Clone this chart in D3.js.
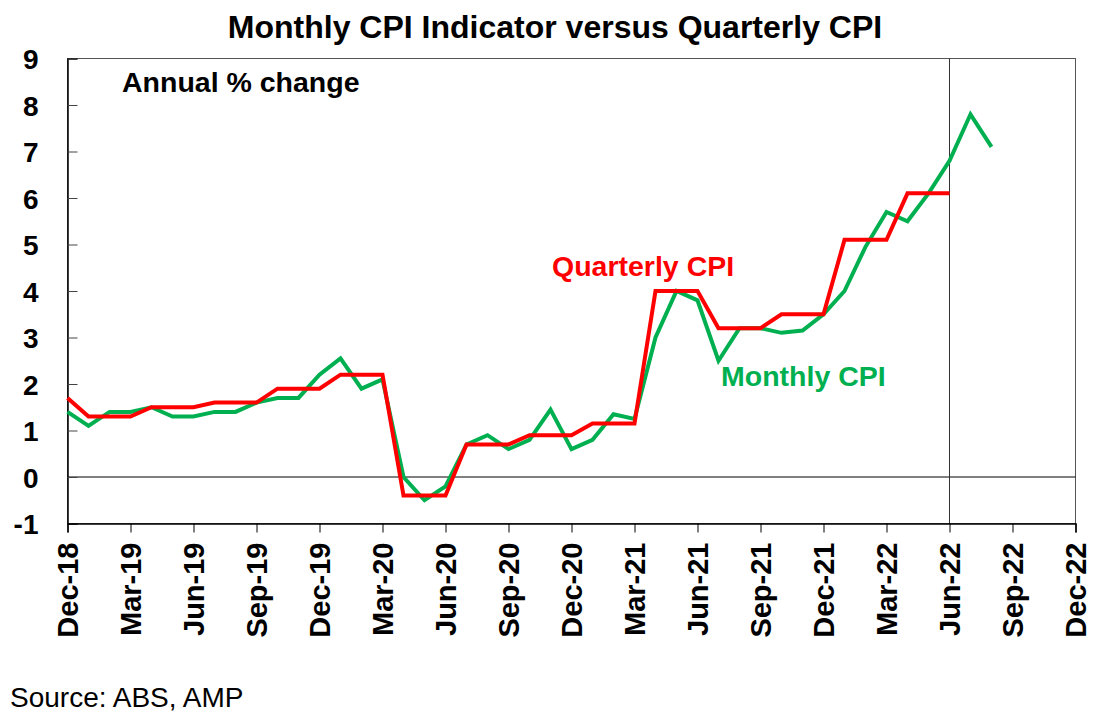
<!DOCTYPE html>
<html>
<head>
<meta charset="utf-8">
<script src="https://cdn.jsdelivr.net/npm/d3@7"></script>
<style>
  body { margin: 0; background: #fff; }
  text { font-family: "Liberation Sans", Arial, sans-serif; }
</style>
</head>
<body>
<div id="chart"></div>
<script>
// monthly CPI indicator, annual % change, Dec-18 .. Aug-22
let monthly_start = new Date(2018, 11, 1);
let monthly_values = [
  1.4, 1.1, 1.4, 1.4, 1.5, 1.3, 1.3, 1.4, 1.4, 1.6, 1.7, 1.7,
  2.2, 2.55, 1.9, 2.1, 0.0, -0.5, -0.2, 0.7, 0.9, 0.6, 0.8, 1.45,
  0.6, 0.8, 1.35, 1.25, 3.0, 4.0, 3.8, 2.5, 3.2, 3.2, 3.1, 3.15,
  3.5, 4.0, 4.95, 5.7, 5.5, 6.1, 6.8, 7.8, 7.1
];

// quarterly CPI, annual % change, Dec-18 .. Jun-22
let quarter_labels = [
  'Dec-18', 'Mar-19', 'Jun-19', 'Sep-19', 'Dec-19', 'Mar-20', 'Jun-20', 'Sep-20',
  'Dec-20', 'Mar-21', 'Jun-21', 'Sep-21', 'Dec-21', 'Mar-22', 'Jun-22'
];
let quarterly_values = [
  1.7, 1.3, 1.5, 1.6, 1.9, 2.2, -0.4, 0.7, 0.9, 1.15, 4.0, 3.2, 3.5, 5.1, 6.1
];

// axis labels, one every quarter
let x_tick_labels = [
  'Dec-18', 'Mar-19', 'Jun-19', 'Sep-19', 'Dec-19', 'Mar-20', 'Jun-20', 'Sep-20', 'Dec-20',
  'Mar-21', 'Jun-21', 'Sep-21', 'Dec-21', 'Mar-22', 'Jun-22', 'Sep-22', 'Dec-22'
];
let y_ticks = [-1, 0, 1, 2, 3, 4, 5, 6, 7, 8, 9];

let chart_width  = 1116;
let chart_height = 719;
let plot_left = 67.5, plot_right = 1075.5, plot_top = 58.5, plot_bottom = 523.5;

let parse_m = d3.timeParse('%b-%y');
// months since Dec-18
let month_index = d => d3.timeMonth.count(monthly_start, d);

let monthly = monthly_values.map((v, i) => ({ m: i, value: v }));

// quarterly series: each quarter's value held across its three months
let quarterly = [];
quarter_labels.forEach((q, k) => {
  let end = month_index(parse_m(q));
  if (k === 0) {
    quarterly.push({ m: end, value: quarterly_values[k] });
  } else {
    [2, 1, 0].forEach(b => quarterly.push({ m: end - b, value: quarterly_values[k] }));
  }
});

let svg = d3.select('#chart')
  .append('svg')
  .attr('width', chart_width)
  .attr('height', chart_height);

let x_scale = d3.scaleLinear()
  .domain([0, month_index(parse_m('Dec-22'))])
  .range([plot_left, plot_right]);

let y_scale = d3.scaleLinear()
  .domain([-1, 9])
  .range([plot_bottom, plot_top]);

// frame
svg.append('rect')
  .attr('x', plot_left).attr('y', plot_top)
  .attr('width', plot_right - plot_left).attr('height', plot_bottom - plot_top)
  .attr('fill', 'none')
  .attr('stroke', '#555')
  .attr('stroke-width', 1);

// zero line
svg.append('line')
  .attr('x1', plot_left).attr('x2', plot_right)
  .attr('y1', y_scale(0)).attr('y2', y_scale(0))
  .attr('stroke', '#000').attr('stroke-width', 1);

// vertical marker at Jun-22
let jun22 = x_scale(month_index(parse_m('Jun-22')));
svg.append('line')
  .attr('x1', jun22).attr('x2', jun22)
  .attr('y1', plot_top).attr('y2', plot_bottom)
  .attr('stroke', '#333').attr('stroke-width', 1);

// y axis, ticks inward
let y_axis = d3.axisRight(y_scale)
  .tickValues(y_ticks)
  .tickSize(10)
  .tickFormat(d => String(d));

let yg = svg.append('g')
  .attr('transform', 'translate(' + plot_left + ',0)')
  .call(y_axis);
yg.select('.domain').attr('stroke', '#000').attr('stroke-width', 1.5);
yg.selectAll('.tick line').attr('stroke', '#444');
yg.selectAll('.tick text')
  .attr('x', -29)
  .attr('dy', '0.36em')
  .attr('text-anchor', 'end')
  .style('font-size', '28px')
  .style('font-weight', 'bold')
  .attr('fill', '#000');

// x axis, quarterly ticks
let x_axis = d3.axisBottom(x_scale)
  .tickValues(x_tick_labels.map(l => month_index(parse_m(l))))
  .tickSize(9)
  .tickFormat((d, i) => x_tick_labels[i]);

let xg = svg.append('g')
  .attr('transform', 'translate(0,' + plot_bottom + ')')
  .call(x_axis);
xg.select('.domain').attr('stroke', '#000').attr('stroke-width', 1.5);
xg.selectAll('.tick line').attr('stroke', '#000');
xg.selectAll('.tick text')
  .attr('transform', 'rotate(-90)')
  .attr('x', -19)
  .attr('y', 0)
  .attr('dy', '0.36em')
  .attr('text-anchor', 'end')
  .style('font-size', '29px')
  .style('font-weight', 'bold')
  .attr('fill', '#000');

// lines
let line = d3.line()
  .x(d => x_scale(d.m))
  .y(d => y_scale(d.value));

svg.append('path')
  .datum(monthly)
  .attr('d', line)
  .attr('fill', 'none')
  .attr('stroke', '#00B050')
  .attr('stroke-width', 4);

svg.append('path')
  .datum(quarterly)
  .attr('d', line)
  .attr('fill', 'none')
  .attr('stroke', '#FF0000')
  .attr('stroke-width', 4);

// texts
svg.append('text')
  .text('Monthly CPI Indicator versus Quarterly CPI')
  .attr('x', 555).attr('y', 38)
  .attr('text-anchor', 'middle')
  .style('font-size', '32px')
  .style('font-weight', 'bold');

svg.append('text')
  .text('Annual % change')
  .attr('x', 122).attr('y', 92)
  .style('font-size', '28.5px')
  .style('font-weight', 'bold');

svg.append('text')
  .text('Quarterly CPI')
  .attr('x', 552).attr('y', 276)
  .style('font-size', '28.5px')
  .style('font-weight', 'bold')
  .attr('fill', '#FF0000');

svg.append('text')
  .text('Monthly CPI')
  .attr('x', 721).attr('y', 386)
  .style('font-size', '28.5px')
  .style('font-weight', 'bold')
  .attr('fill', '#00B050');

svg.append('text')
  .text('Source: ABS, AMP')
  .attr('x', 10).attr('y', 707)
  .style('font-size', '28px');
</script>
</body>
</html>
